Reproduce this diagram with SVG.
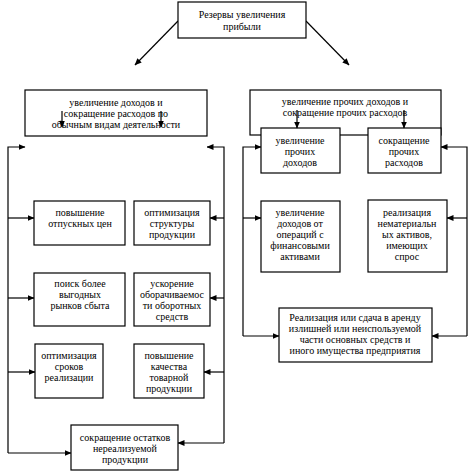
<svg xmlns="http://www.w3.org/2000/svg" width="472" height="474" viewBox="0 0 472 474">
<style>
.box{fill:#fff;stroke:#000;stroke-width:1.2}
.t{font-family:"Liberation Serif","Times New Roman",serif;font-size:10px;fill:#000;text-anchor:middle}
.c{fill:none;stroke:#000;stroke-width:1.2}
</style>
<defs>
<marker id="a" markerWidth="7" markerHeight="6" refX="6.5" refY="3" orient="auto" markerUnits="userSpaceOnUse">
<path d="M0,0 L7,3 L0,6 Z" fill="#000"/>
</marker>
</defs>
<rect width="472" height="474" fill="#fff"/>
<g id="connectors">
<path class="c" d="M178,21 L135,65" marker-end="url(#a)"/>
<path class="c" d="M306,21 L349,65" marker-end="url(#a)"/>
<path class="c" d="M8,453 L8,147 L25,147" marker-end="url(#a)"/>
<path class="c" d="M8,218 L34,218" marker-end="url(#a)"/>
<path class="c" d="M8,298 L34,298" marker-end="url(#a)"/>
<path class="c" d="M8,372 L35,372" marker-end="url(#a)"/>
<path class="c" d="M8,453 L71,453" marker-end="url(#a)"/>
<path class="c" d="M224,443 L224,147 L207,147" marker-end="url(#a)"/>
<path class="c" d="M224,218 L210,218" marker-end="url(#a)"/>
<path class="c" d="M224,298 L210,298" marker-end="url(#a)"/>
<path class="c" d="M224,372 L204,372" marker-end="url(#a)"/>
<path class="c" d="M224,443 L178,443" marker-end="url(#a)"/>
<path class="c" d="M243,336 L243,147 L261,147" marker-end="url(#a)"/>
<path class="c" d="M243,218 L261,218" marker-end="url(#a)"/>
<path class="c" d="M243,336 L279,336" marker-end="url(#a)"/>
<path class="c" d="M467,336 L467,147 L441,147" marker-end="url(#a)"/>
<path class="c" d="M467,218 L447,218" marker-end="url(#a)"/>
<path class="c" d="M467,336 L432,336" marker-end="url(#a)"/>
</g>
<g id="n-top">
<rect class="box" x="178" y="2" width="128" height="36"/>
<text class="t" x="242" y="18">Резервы увеличения</text>
<text class="t" x="242" y="30">прибыли</text>
</g>
<g id="n-left-main">
<rect class="box" x="25" y="90" width="182" height="46"/>
<text class="t" x="116" y="105.5">увеличение доходов и</text>
<text class="t" x="116" y="116.5">сокращение расходов по</text>
<text class="t" x="116" y="127.5">обычным видам деятельности</text>
<path class="c" d="M62,111 L62,127" marker-end="url(#a)"/>
<path class="c" d="M161,111 L161,127" marker-end="url(#a)"/>
</g>
<g id="n-right-main">
<rect class="box" x="250" y="90" width="191" height="45"/>
<text class="t" x="345" y="104.5">увеличение прочих доходов и</text>
<text class="t" x="345" y="116">сокращение прочих расходов</text>
</g>
<g id="n-other-income">
<rect class="box" x="261" y="128" width="79" height="45"/>
<text class="t" x="300" y="143.5">увеличение</text>
<text class="t" x="300" y="154.5">прочих</text>
<text class="t" x="300" y="165.5">доходов</text>
</g>
<g id="n-other-expense">
<rect class="box" x="368" y="128" width="73" height="45"/>
<text class="t" x="404" y="143.5">сокращение</text>
<text class="t" x="404" y="154.5">прочих</text>
<text class="t" x="404" y="165.5">расходов</text>
</g>
<g id="inner-arrows">
<path class="c" d="M297,110 L297,128" marker-end="url(#a)"/>
<path class="c" d="M404,110 L404,128" marker-end="url(#a)"/>
</g>
<g id="n-prices">
<rect class="box" x="34" y="201" width="91" height="44"/>
<text class="t" x="80" y="215.5">повышение</text>
<text class="t" x="80" y="226.5">отпускных цен</text>
</g>
<g id="n-structure">
<rect class="box" x="134" y="201" width="76" height="44"/>
<text class="t" x="172" y="215.5">оптимизация</text>
<text class="t" x="172" y="226.5">структуры</text>
<text class="t" x="172" y="237.5">продукции</text>
</g>
<g id="n-markets">
<rect class="box" x="34" y="273" width="91" height="53"/>
<text class="t" x="80" y="286.5">поиск более</text>
<text class="t" x="80" y="297.5">выгодных</text>
<text class="t" x="80" y="308.5">рынков сбыта</text>
</g>
<g id="n-turnover">
<rect class="box" x="134" y="273" width="76" height="53"/>
<text class="t" x="172" y="286.5">ускорение</text>
<text class="t" x="172" y="297.5">оборачиваемос</text>
<text class="t" x="172" y="308.5">ти оборотных</text>
<text class="t" x="172" y="319.5">средств</text>
</g>
<g id="n-terms">
<rect class="box" x="35" y="344" width="68" height="54"/>
<text class="t" x="69" y="358.5">оптимизация</text>
<text class="t" x="69" y="369.5">сроков</text>
<text class="t" x="69" y="380.5">реализации</text>
</g>
<g id="n-quality">
<rect class="box" x="134" y="344" width="70" height="54"/>
<text class="t" x="169" y="358.5">повышение</text>
<text class="t" x="169" y="369.5">качества</text>
<text class="t" x="169" y="380.5">товарной</text>
<text class="t" x="169" y="391.5">продукции</text>
</g>
<g id="n-stock">
<rect class="box" x="71" y="425" width="107" height="45"/>
<text class="t" x="125" y="440.5">сокращение остатков</text>
<text class="t" x="125" y="451.5">нереализуемой</text>
<text class="t" x="125" y="462.5">продукции</text>
</g>
<g id="n-financial">
<rect class="box" x="261" y="201" width="79" height="71"/>
<text class="t" x="300" y="215.5">увеличение</text>
<text class="t" x="300" y="226.5">доходов от</text>
<text class="t" x="300" y="237.5">операций с</text>
<text class="t" x="300" y="248.5">финансовыми</text>
<text class="t" x="300" y="259.5">активами</text>
</g>
<g id="n-intangible">
<rect class="box" x="368" y="200" width="79" height="72"/>
<text class="t" x="407" y="215.5">реализация</text>
<text class="t" x="407" y="226.5">нематериальн</text>
<text class="t" x="407" y="237.5">ых активов,</text>
<text class="t" x="407" y="248.5">имеющих</text>
<text class="t" x="407" y="259.5">спрос</text>
</g>
<g id="n-assets">
<rect class="box" x="279" y="308" width="153" height="54"/>
<text class="t" x="355" y="320.5">Реализация или сдача в аренду</text>
<text class="t" x="355" y="331.5">излишней или неиспользуемой</text>
<text class="t" x="355" y="342.5">части основных средств  и</text>
<text class="t" x="355" y="353.5">иного имущества предприятия</text>
</g>
</svg>
